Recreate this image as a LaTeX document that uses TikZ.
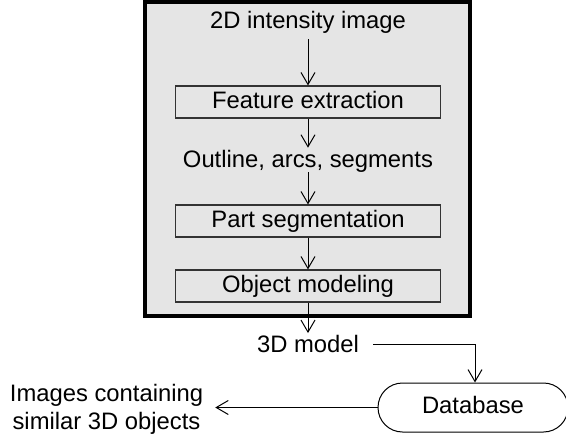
\documentclass[tikz,border=0pt]{standalone}
\usepackage{fontspec}
\setmainfont{Liberation Sans}
\usetikzlibrary{arrows.meta,shapes.misc}
\begin{document}
\begin{tikzpicture}[x=1pt,y=-1pt,
  every node/.style={font=\fontsize{23.8}{28}\selectfont, inner sep=0pt},
  stagebox/.style={draw=black!80, line width=1.1pt, fill=black!10, minimum width=265pt, minimum height=32pt, text height=17pt, text depth=4pt},
  lbl/.style={},
  conn/.style={line width=1pt, -{Straight Barb[length=12pt,width=14pt,line width=1pt]}},
  plain/.style={line width=1pt}
]
\useasboundingbox (0,0) rectangle (566,442);
% outer frame
\draw[line width=3.6pt, fill=black!10] (144.8,1.8) rectangle (470.2,316.2);
\node[lbl] (img) at (308,22) {2D intensity image};
\node[stagebox] (fe) at (308,102) {Feature extraction};
\node[lbl] (oas) at (308,161) {Outline, arcs, segments};
\node[stagebox] (ps) at (308,221) {Part segmentation};
\node[stagebox] (om) at (308,286) {Object modeling};
\node[lbl] (mdl) at (308,344) {3D model};
\node[draw, line width=1pt, rounded rectangle, minimum width=190pt, minimum height=49pt, text height=17pt, text depth=6pt] (db) at (473,407.5) {Database};
\node[lbl, align=center] (res) at (106.5,409) {Images containing\\similar 3D objects};
\coordinate (c1) at (475,344);
% connectors
\draw[conn] ([yshift=-6pt]img.south) -- (fe.north);
\draw[conn] (fe.south) -- ([yshift=2pt]oas.north);
\draw[conn] (oas.south) -- (ps.north);
\draw[conn] (ps.south) -- (om.north);
\draw[conn] (om.south) -- ([yshift=2pt]mdl.north);
\draw[plain] ([xshift=14pt]mdl.east) -- (c1);
\draw[conn] (c1) -- (db.north -| c1);
\draw[conn] (db.west) -- ([xshift=12pt]res.east |- db.west);
\end{tikzpicture}
\end{document}
